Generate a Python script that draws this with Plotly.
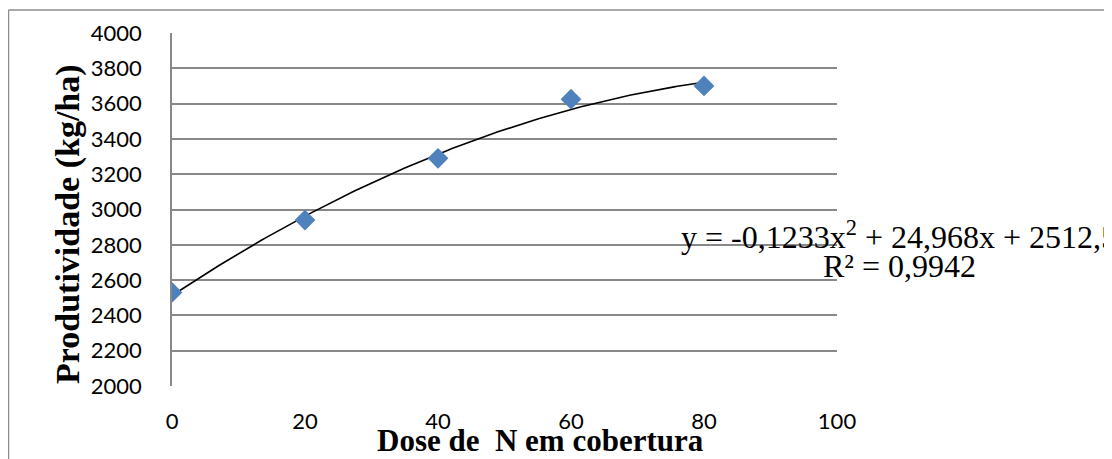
import numpy as np
import plotly.graph_objects as go

# Data
dose = [0, 20, 40, 60, 80]
produtividade = [2530, 2940, 3290, 3625, 3700]
# Polynomial trendline coefficients shown on the chart (a*x^2 + b*x + c)
trend_coef = [-0.1233, 24.968, 2512.5]
x_ticks = [0, 20, 40, 60, 80, 100]
y_ticks = [2000, 2200, 2400, 2600, 2800, 3000, 3200, 3400, 3600, 3800, 4000]

OFF = 8  # browser default body margin
W, H = 1112 - OFF, 459 - OFF
# plot area in page pixels
L, R, T, B = 172, 837, 33, 386

xt = np.linspace(min(dose), max(dose), 161)
yt = np.polyval(trend_coef, xt)

fig = go.Figure()
fig.add_trace(go.Scatter(x=xt, y=yt, mode="lines",
                         line=dict(color="black", width=1.6),
                         hoverinfo="skip", showlegend=False))
fig.add_trace(go.Scatter(x=dose, y=produtividade, mode="markers",
                         marker=dict(symbol="diamond", size=16, color="#4F81BD",
                                     line=dict(width=0)),
                         showlegend=False))

grid = "#888888"
tickfont = dict(family="Lato", size=22, color="black")
fig.update_layout(
    width=W, height=H,
    margin=dict(l=L - OFF, r=W - (R - OFF), t=T - OFF, b=H - (B - OFF), pad=0),
    paper_bgcolor="white", plot_bgcolor="white",
    xaxis=dict(range=[0, 100], tickvals=x_ticks, showgrid=False, zeroline=False,
               showline=False, ticks="", ticklabelstandoff=20, tickfont=tickfont),
    yaxis=dict(range=[2000, 4000], tickvals=y_ticks, showgrid=True, gridcolor=grid,
               gridwidth=1.6, zeroline=False, showline=True, linecolor=grid, linewidth=1.6,
               ticks="", ticklabelstandoff=24, tickfont=tickfont),
    hovermode=False,
)

pw, ph = R - L, B - T
def px(x):
    return (x - L) / pw
def py(y):
    return (B - y) / ph

# outer chart border (left and top edges visible)
border = dict(color="#8c8c8c", width=1.5)
fig.add_shape(type="line", xref="paper", yref="paper", x0=px(8.5), x1=px(8.5), y0=py(10), y1=py(480), line=border)
fig.add_shape(type="line", xref="paper", yref="paper", x0=px(8.5), x1=px(1130), y0=py(10), y1=py(10), line=border)

fig.add_annotation(xref="paper", yref="paper", x=px(540), y=py(440), text="<b>Dose de  N em cobertura</b>",
                   showarrow=False, xanchor="center", yanchor="middle",
                   font=dict(family="Liberation Serif", size=31, color="black"))
fig.add_annotation(xref="paper", yref="paper", x=px(68), y=py(224), text="<b>Produtividade (kg/ha)</b>",
                   showarrow=False, textangle=-90, xanchor="center", yanchor="middle",
                   font=dict(family="Liberation Serif", size=34, color="black"))
eqfont = dict(family="Liberation Serif", size=32, color="black")
fig.add_annotation(xref="paper", yref="paper", x=px(899), y=py(235),
                   text="y = -0,1233x<sup>2</sup> + 24,968x + 2512,5",
                   showarrow=False, xanchor="center", yanchor="middle", font=eqfont)
fig.add_annotation(xref="paper", yref="paper", x=px(899), y=py(266),
                   text="R² = 0,9942",
                   showarrow=False, xanchor="center", yanchor="middle", font=eqfont)

fig.write_html("out.html", config=dict(displayModeBar=False))
